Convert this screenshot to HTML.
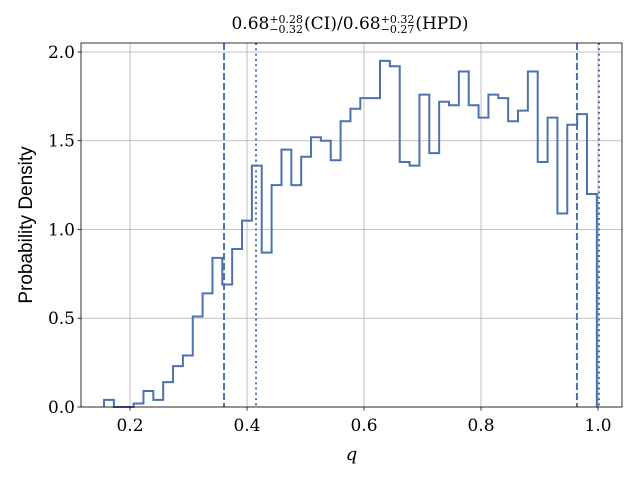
<!DOCTYPE html>
<html><head><meta charset="utf-8"><style>
body{margin:0;background:#fff;}
#wrap{position:relative;width:640px;height:480px;}
svg text{font-family:"DejaVu Serif","Liberation Serif",serif;}
#title{position:absolute;top:14px;left:0;width:700px;text-align:center;font-family:"DejaVu Serif","Liberation Serif",serif;font-size:17px;}
.ss{display:inline-block;vertical-align:middle;line-height:10px;font-size:11px;text-align:left;margin-right:1px;}
</style></head><body>
<div id="wrap">
<svg id="svg" width="640" height="480"></svg>
<div id="title">0.68<span class="ss">+0.28<br>−0.32</span>(CI)/0.68<span class="ss">+0.32<br>−0.27</span>(HPD)</div>
</div>
<script>
const binStart = 0.1556;
const binEnd = 0.998;
const densities = [0.04,0.0,0.0,0.02,0.09,0.04,0.14,0.23,0.29,0.51,0.64,0.84,0.69,0.89,1.05,1.36,0.87,1.25,1.45,1.25,1.41,1.52,1.50,1.39,1.61,1.68,1.74,1.74,1.95,1.92,1.38,1.36,1.76,1.43,1.72,1.70,1.89,1.70,1.63,1.76,1.74,1.61,1.67,1.89,1.38,1.63,1.09,1.59,1.65,1.20];
const xTicks = [0.2,0.4,0.6,0.8,1.0];
const xTickLabels = ["0.2","0.4","0.6","0.8","1.0"];
const yTicks = [0,0.5,1.0,1.5,2.0];
const yTickLabels = ["0.0","0.5","1.0","1.5","2.0"];
const ciBounds = [0.3607,0.964];
const hpdBounds = [0.4154,1.0017];

const L=81,R=622,T=43,B=407;
const xmin=0.1162,xmax=1.0410,ymin=0,ymax=2.0507;
const X=v=>L+(v-xmin)/(xmax-xmin)*(R-L);
const Y=v=>B-(v-ymin)/(ymax-ymin)*(B-T);
const svg=document.getElementById('svg');
const NS='http://www.w3.org/2000/svg';
function mk(tag,attrs,parent){const e=document.createElementNS(NS,tag);for(const k in attrs)e.setAttribute(k,attrs[k]);(parent||svg).appendChild(e);return e;}
// grid
xTicks.forEach(t=>{const g=mk('line',{x1:X(t),x2:X(t),y1:T,y2:B,stroke:'#b0b0b0','stroke-width':0.8});

});
yTicks.forEach(t=>{const g=mk('line',{x1:L,x2:R,y1:Y(t),y2:Y(t),stroke:'#b0b0b0','stroke-width':0.8});

});
// histogram step
const n=densities.length,w=(binEnd-binStart)/n;
let d=`M${X(binStart)},${Y(0)}`;
densities.forEach((v,i)=>{d+=` L${X(binStart+i*w)},${Y(v)} L${X(binStart+(i+1)*w)},${Y(v)}`;});
d+=` L${X(binEnd)},${Y(0)}`;
const h=mk('path',{d:d,fill:'none',stroke:'#4c72b0','stroke-width':2,'stroke-linejoin':'miter'});


// vlines
ciBounds.forEach(v=>{const l=mk('line',{x1:X(v),x2:X(v),y1:T,y2:B,stroke:'#4c72b0','stroke-width':2,'stroke-dasharray':'7,3'});

});
hpdBounds.forEach(v=>{const l=mk('line',{x1:X(v),x2:X(v),y1:T,y2:B,stroke:'#4c72b0','stroke-width':2,'stroke-dasharray':'2,3.3'});

});
// frame
const f=mk('rect',{x:L,y:T,width:R-L,height:B-T,fill:'none',stroke:'#000','stroke-width':0.8});


// ticks
xTicks.forEach((t,i)=>{mk('line',{x1:X(t),x2:X(t),y1:B,y2:B+3.5,stroke:'#000','stroke-width':0.8});
const tx=mk('text',{x:X(t),y:B+24,'text-anchor':'middle','font-size':17});tx.textContent=xTickLabels[i];

});
yTicks.forEach((t,i)=>{mk('line',{x1:L,x2:L-3.5,y1:Y(t),y2:Y(t),stroke:'#000','stroke-width':0.8});
const tx=mk('text',{x:L-6,y:Y(t)+6,'text-anchor':'end','font-size':17});tx.textContent=yTickLabels[i];

});
const xl=mk('text',{x:(L+R)/2,y:460,'text-anchor':'middle','font-size':18,'font-style':'italic'});xl.textContent='q';


const yl=mk('text',{x:0,y:0,'text-anchor':'middle','font-size':19,transform:`translate(32,${(T+B)/2}) rotate(-90)`,style:'font-family:"Liberation Sans",sans-serif'});yl.textContent='Probability Density';


</script>
</body></html>
